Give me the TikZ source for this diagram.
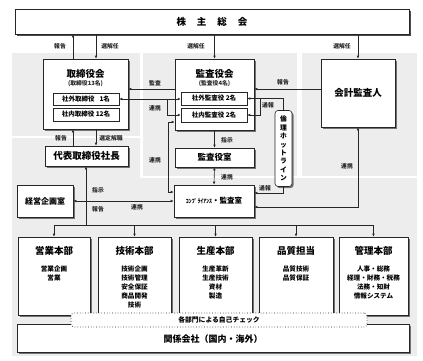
\documentclass[tikz,border=0pt]{standalone}
\usepackage{fontspec}
\newfontfamily\jp{Noto Sans CJK JP}
\usetikzlibrary{shadows,arrows.meta}
\begin{document}
\begin{tikzpicture}[x=1pt,y=-1pt,
  font=\jp,
  panel/.style={fill=black!7, draw=none},
  box/.style={draw=black!85, fill=white, line width=0.6pt, inner sep=0pt,
    drop shadow={shadow xshift=1.6pt, shadow yshift=-1.6pt, fill=black!55, opacity=1}},
  ibox/.style={draw=black!85, fill=white, line width=0.5pt, inner sep=0pt,
    font=\jp\fontsize{6.5}{7.5}\selectfont\bfseries},
  tip/.tip={Latex[length=3pt,width=2.6pt]},
  arr/.style={-tip, line width=0.6pt, draw=black!85},
  darr/.style={tip-tip, line width=0.6pt, draw=black!85},
  ln/.style={line width=0.6pt, draw=black!85},
  lbl/.style={font=\jp\fontsize{5.8}{6.5}\selectfont\bfseries, inner sep=0.5pt, text=black!85},
  ttl/.style={font=\jp\fontsize{9.5}{11}\selectfont\bfseries, inner sep=0pt},
  sub/.style={font=\jp\fontsize{5.8}{6.5}\selectfont\bfseries, inner sep=0pt, text=black!85},
  items/.style={font=\jp\fontsize{6.6}{9}\selectfont\bfseries, inner sep=0pt, align=center, anchor=north},
]
\useasboundingbox (0,0) rectangle (423,360);
% background panels
\fill[panel] (12,53) rectangle (140,136);
\fill[panel] (143,53) rectangle (297,176);
\fill[panel] (302,53) rectangle (417,176);
\fill[panel] (12,138) -- (140,138) -- (140,178) -- (417,178) -- (417,356) -- (12,356) -- cycle;

% top
\node[box, drop shadow={shadow xshift=2pt, shadow yshift=-2pt, fill=black!70, opacity=1},
      minimum width=394, minimum height=25] (kabu) at (212,21.5) {};
\node[ttl] (kabut) at (kabu) {株\hspace{11pt}主\hspace{11pt}総\hspace{11pt}会};

% board of directors
\node[box, minimum width=85, minimum height=70] (tb) at (85.5,94) {};
\node[ttl] (tbt) at (85.5,74) {取締役会};
\node[sub] (tbs) at (85.5,83.5) {(取締役13名)};
\node[ibox, minimum width=66, minimum height=12] (tbo) at (86,99) {社外取締役\hspace{5pt}1名};
\node[ibox, minimum width=66, minimum height=13] (tbi) at (86,114.5) {社内取締役 12名};

% audit board
\node[box, minimum width=79, minimum height=71] (ks) at (214.5,94.5) {};
\node[ttl] (kst) at (214.5,74) {監査役会};
\node[sub] (kss) at (214.5,83.5) {(監査役4名)};
\node[ibox, minimum width=66, minimum height=13] (kso) at (214,98.5) {社外監査役 2名};
\node[ibox, minimum width=66, minimum height=14] (ksi) at (214,115) {社内監査役 2名};

% accounting auditor
\node[box, minimum width=74, minimum height=68] (kai) at (358,93) {};
\node[ttl] (kait) at (kai) {会計監査人};

% president
\node[box, minimum width=83, minimum height=20] (pres) at (86.5,156) {};
\node[ttl] (prest) at (pres) {代表取締役社長};

% audit office
\node[box, minimum width=79, minimum height=19] (ksr) at (214.5,157.5) {};
\node[ttl, font=\jp\fontsize{8.5}{10}\selectfont\bfseries] (ksrt) at (ksr) {監査役室};

% compliance
\node[box, minimum width=80, minimum height=32] (comp) at (214,201) {};
\node[inner sep=0pt, font=\jp\fontsize{7.5}{8}\selectfont\bfseries] (compt) at (comp) {{\fontsize{5.8}{7}\selectfont ｺﾝﾌﾟﾗｲｱﾝｽ}・監査室};

% planning
\node[box, minimum width=56, minimum height=32] (keiei) at (45,201) {};
\node[ttl, font=\jp\fontsize{8}{10}\selectfont\bfseries] (keieit) at (keiei) {経営企画室};

% hotline
\node[box, rounded corners=3pt, minimum width=17, minimum height=76] (hot) at (283.5,148.5) {};
\node[inner sep=0pt, align=center, font=\jp\fontsize{6.8}{8.4}\selectfont\bfseries] (hott) at (hot) {倫\\理\\ホ\\ッ\\ト\\ラ\\イ\\ン};

% departments
\node[box, minimum width=72, minimum height=78] (d1) at (54,276) {};
\node[box, minimum width=73, minimum height=78] (d2) at (134.5,276) {};
\node[box, minimum width=73, minimum height=78] (d3) at (215.5,276) {};
\node[box, minimum width=74, minimum height=78] (d4) at (296,276) {};
\node[box, minimum width=69, minimum height=78] (d5) at (373.5,276) {};
\node[ttl] (d1t) at (54,251) {営業本部};
\node[ttl] (d2t) at (134.5,251) {技術本部};
\node[ttl] (d3t) at (215.5,251) {生産本部};
\node[ttl] (d4t) at (296,251) {品質担当};
\node[ttl] (d5t) at (373.5,251) {管理本部};
\node[items] (d1i) at (54,266) {営業企画\\営業};
\node[items] (d2i) at (134.5,266) {技術企画\\技術管理\\安全保証\\商品開発\\技術};
\node[items] (d3i) at (215.5,266) {生産革新\\生産技術\\資材\\製造};
\node[items] (d4i) at (296,266) {品質技術\\品質保証};
\node[items] (d5i) at (373.5,266) {人事・総務\\経理・財務・税務\\法務・知財\\情報システム};

% affiliates and self-check
\node[box, minimum width=392, minimum height=28] (kanren) at (213,338) {};
\node[ttl, font=\jp\fontsize{9}{11}\selectfont\bfseries] (kanrent) at (213,339) {関係会社（国内・海外）};
\node[draw=black!85, fill=white, dotted, line width=0.7pt, rounded corners=3pt,
      minimum width=296, minimum height=14, inner sep=0pt,
      font=\jp\fontsize{6.8}{8}\selectfont\bfseries] (self) at (219,320) {各部門による自己チェック};

% connectors: shareholders
\draw[arr] (tb.north -| 73,0) -- (kabu.south -| 73,0);
\draw[arr] (kabu.south -| 96,0) -- (tb.north -| 96,0);
\draw[arr] (kabu.south -| ks.north) -- (ks.north);
\draw[arr] (kabu.south -| kai.north) -- (kai.north);
\node[lbl] (l1) at (60,46) {報告};
\node[lbl] (l2) at (110,46) {選解任};
\node[lbl] (l3) at (196,46) {選解任};
\node[lbl] (l4) at (342,46) {選解任};

% audit / report
\draw[arr] (ks.west |- 0,89) -- (tb.east |- 0,89);
\node[lbl] (l5) at (155,83) {監査};
\draw[arr] (kai.west |- 0,89) -- (ks.east |- 0,89);
\node[lbl] (l6) at (283,82) {報告};

% cooperation outside directors/auditors
\draw[darr] (tbo.east) -- (tbo.east -| kso.west);
\draw[arr] (tbo.east -| 167,0) |- (ksi.west);
\node[lbl] (l7) at (155,108) {連携};

% audit board <-> compliance
\draw[darr] (ks.west |- 0,122) -- (168,122) -- (168,192) -- (comp.west |- 0,192);
\node[lbl] (l8) at (155,160) {連携};

% audit board -> office, office <-> compliance
\draw[arr] (ks.south) -- (ksr.north);
\node[lbl] (l9) at (227,140) {指示};
\draw[darr] (ksr.south) -- (comp.north);
\node[lbl] (l10) at (227,177) {連携};

% hotline
\draw[arr] (hot.north) |- (kso.east);
\draw[arr] (260,98.5) |- (ksi.east);
\node[lbl] (l11) at (268,105) {通報};
\draw[arr] (hot.south) |- (comp.east |- 0,193);
\node[lbl] (l12) at (265,188) {通報};

% accounting auditor <-> compliance
\draw[darr] (kai.south) |- (comp.east |- 0,207);
\node[lbl] (l13) at (347,166) {連携};

% board <-> president
\draw[arr] (pres.north -| 73,0) -- (tb.south -| 73,0);
\draw[arr] (tb.south -| 96,0) -- (pres.north -| 96,0);
\node[lbl] (l14) at (61,138) {報告};
\node[lbl] (l15) at (111,138) {選定解職};

% planning <-> compliance
\draw[darr] (keiei.east) -- (comp.west |- keiei.east);
\node[lbl] (l16) at (137,207) {連携};

% president bus
\coordinate (bus) at (86,225);
\draw[arr] (bus) -- (pres.south -| bus);
\draw[ln] (d1.north |- bus) -- (d5.north |- bus);
\foreach \d in {d1,d2,d3,d4,d5} \draw[arr] (\d.north |- bus) -- (\d.north);
\node[lbl] (l17) at (98,190) {指示};
\node[lbl] (l18) at (98,209) {報告};
\end{tikzpicture}
\end{document}
